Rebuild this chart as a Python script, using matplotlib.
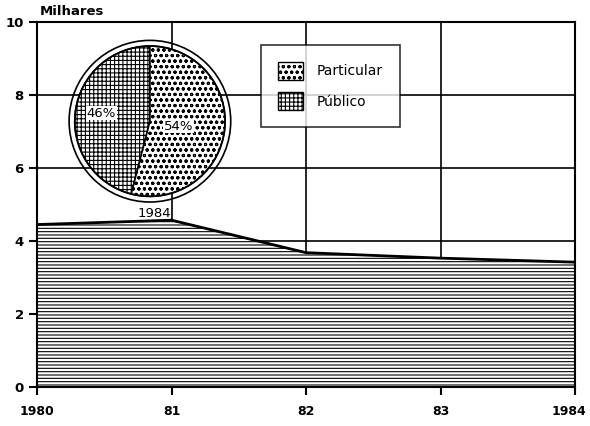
import matplotlib.pyplot as plt
from matplotlib.patches import Circle, Patch
from matplotlib.transforms import ScaledTranslation

plt.rcParams['font.family'] = ['DejaVu Sans']
plt.rcParams['hatch.linewidth'] = 0.8

# data
years = [1980, 1981, 1982, 1983, 1984]
total = [4.45, 4.57, 3.68, 3.53, 3.42]
x_labels = ['1980', '81', '82', '83', '1984']
pie_labels = ['Público', 'Particular']
pie_share = [46, 54]

fig = plt.figure(figsize=(5.9, 4.26), dpi=100)
ax = fig.add_axes([0.0627, 0.0915, 0.912, 0.857])

# area with horizontal line shading
ax.fill_between(years, total, 0, facecolor='white', edgecolor='black',
                hatch='-----', linewidth=0, zorder=2)
ax.plot(years, total, color='black', linewidth=2, zorder=3)

ax.set_xlim(1980, 1984)
ax.set_ylim(0, 10)
ax.set_xticks(years)
ax.set_xticklabels(x_labels, fontsize=9, fontweight='bold')
ax.set_yticks([0, 2, 4, 6, 8, 10])
ax.set_yticklabels(['0', '2', '4', '6', '8', '10'], fontsize=9.5, fontweight='bold')
ax.tick_params(axis='both', direction='out', length=6, width=1.5, colors='black')
ax.tick_params(axis='x', pad=7)
ax.grid(color='black', linewidth=1.2, zorder=1)
for s in ax.spines.values():
    s.set_linewidth(1.5)

# keep the last year label inside the figure
last = ax.get_xticklabels()[-1]
last.set_transform(last.get_transform() + ScaledTranslation(-0.06, 0, fig.dpi_scale_trans))

fig.text(0.068, 0.965, 'Milhares', fontsize=9.5, fontweight='bold')

# legend
handles = [Patch(facecolor='white', edgecolor='black', hatch='ooo', label='Particular'),
           Patch(facecolor='white', edgecolor='black', hatch='++++', label='Público')]
leg = ax.legend(handles=handles, loc='upper left', bbox_to_anchor=(0.404, 0.955),
                fontsize=10, frameon=True, fancybox=False, edgecolor='black',
                handlelength=1.8, handleheight=1.6, borderpad=1.2, labelspacing=0.9,
                handletextpad=1.0)
leg.get_frame().set_linewidth(1.2)
leg.set_zorder(5)

# pie inset
pax = fig.add_axes([0.1136, 0.522, 0.281, 0.387])
wedges, _ = pax.pie(pie_share, startangle=90, counterclock=True,
                    colors=['white', 'white'], radius=0.93,
                    wedgeprops=dict(edgecolor='black', linewidth=1.2))
wedges[0].set_hatch('++++')
wedges[1].set_hatch('ooo')
pax.add_patch(Circle((0, 0), 1.0, facecolor='none', edgecolor='black', linewidth=1.2))
pax.add_patch(Circle((0, 0), 0.93, facecolor='none', edgecolor='black', linewidth=1.2))
pax.text(-0.6, 0.1, f'{pie_share[0]}%', fontsize=9.5, ha='center', va='center',
         bbox=dict(facecolor='white', edgecolor='none', pad=0.5))
pax.text(0.35, -0.06, f'{pie_share[1]}%', fontsize=9.5, ha='center', va='center',
         bbox=dict(facecolor='white', edgecolor='none', pad=0.5))
pax.text(0.05, -1.06, '1984', fontsize=9.5, ha='center', va='top')
pax.set_xlim(-1.02, 1.02)
pax.set_ylim(-1.02, 1.02)
pax.set_aspect('equal')
pax.axis('off')

fig.savefig('out.png', dpi=100)
